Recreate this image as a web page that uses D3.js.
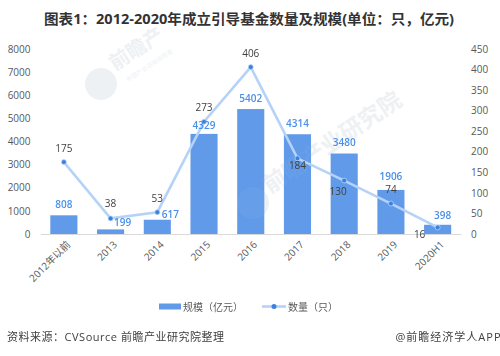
<!DOCTYPE html>
<html><head><meta charset="utf-8">
<script src="https://cdn.jsdelivr.net/npm/d3@7/dist/d3.min.js"></script>
<style>html,body{margin:0;padding:0;background:#fff}svg{display:block}
text{font-family:"Open Sans","Noto Sans CJK SC",sans-serif}</style></head><body>
<svg id="c" width="500" height="356"></svg>
<script>
const categories=["2012年以前","2013","2014","2015","2016","2017","2018","2019","2020H1"];
const scaleValues=[808,199,617,4329,5402,4314,3480,1906,398];
const countValues=[175,38,53,273,406,184,130,74,16];
const leftTicks=[0,1000,2000,3000,4000,5000,6000,7000,8000];
const rightTicks=[0,50,100,150,200,250,300,350,400,450];
const seriesNames=["规模（亿元）","数量（只）"];
const titleText="图表1：2012-2020年成立引导基金数量及规模(单位：只，亿元)";
const sourceText="资料来源：CVSource 前瞻产业研究院整理";
const creditText="@前瞻经济学人APP";
// label nudges from each mark (dx, dy)
const barNudge=[[0,-7],[12,-3],[13,-2],[0,-5],[0,-7],[0,-7.5],[0,-8],[0,-9.5],[5,-6]];
const lineNudge=[[0,-10.5],[0,-11],[0,-10.5],[0,-11],[0,-10.5],[0,10.5],[-6,14],[0,-10.5],[-18,10.5]];

const svg=d3.select("#c");
const x=d3.scaleBand().domain(categories).range([40.5,461]).paddingInner(0.42).paddingOuter(0.21);
const yL=d3.scaleLinear().domain([0,8000]).range([234,49]);
const yR=d3.scaleLinear().domain([0,450]).range([234,49]);
const cx=c=>x(c)+x.bandwidth()/2;

function watermark(g){
  g.append("circle").attr("cx",101).attr("cy",84).attr("r",16);
  g.append("text").attr("transform","translate(115,71) rotate(-33)").attr("font-size",20).attr("font-weight",700).text("前瞻产");
  g.append("text").attr("transform","translate(128,82) rotate(-33)").attr("font-size",6).text("中国产业咨询领导者");
  g.append("circle").attr("cx",253).attr("cy",203).attr("r",16);
  g.append("text").attr("transform","translate(270,194) rotate(-34)").attr("font-size",23).attr("font-weight",700).text("前瞻产业研究院");
}
watermark(svg.append("g").attr("fill","#eef1f4"));

svg.append("text").attr("x",44).attr("y",23.5).attr("font-size",14).attr("font-weight",700).attr("fill","#333").attr("textLength",410).attr("lengthAdjust","spacingAndGlyphs").text(titleText);

// axes
const axL=svg.append("g").attr("transform","translate(40.5,0)").call(d3.axisLeft(yL).tickValues(leftTicks).tickFormat(d3.format("d")).tickSize(0).tickPadding(10));
const axR=svg.append("g").attr("transform","translate(461,0)").call(d3.axisRight(yR).tickValues(rightTicks).tickFormat(d3.format("d")).tickSize(0).tickPadding(10));
[axL,axR].forEach(a=>{a.select(".domain").remove();a.selectAll("text").attr("font-size",10).attr("fill","#595959");});
const axB=svg.append("g").attr("transform","translate(0,234)").call(d3.axisBottom(x).tickSize(0));
axB.select(".domain").attr("stroke","#d9d9d9");
axB.selectAll("text").attr("font-size",10).attr("fill","#595959").attr("text-anchor","end").attr("dx",0).attr("dy",0)
  .attr("transform","translate(5,9) rotate(-45)");

// bars
svg.selectAll(".bar").data(scaleValues).join("rect").attr("class","bar")
 .attr("x",(d,i)=>x(categories[i])).attr("width",x.bandwidth())
 .attr("y",d=>yL(d)).attr("height",d=>234-yL(d)).attr("fill","#609ae8");
watermark(svg.append("g").attr("fill","#fff").attr("opacity",.05));

// line
const line=d3.line().x((d,i)=>cx(categories[i])).y(d=>yR(d));
svg.append("path").datum(countValues).attr("d",line).attr("fill","none").attr("stroke","#b5d2f7").attr("stroke-width",2.6);
svg.selectAll(".pt").data(countValues).join("circle").attr("class","pt")
 .attr("cx",(d,i)=>cx(categories[i])).attr("cy",d=>yR(d)).attr("r",2.5).attr("fill","#3b82e0").attr("stroke","#c6dcf9").attr("stroke-width",.7);

// labels
svg.selectAll(".bl").data(scaleValues).join("text").attr("class","bl").attr("text-anchor","middle")
 .attr("x",(d,i)=>cx(categories[i])+barNudge[i][0]).attr("y",(d,i)=>yL(d)+barNudge[i][1])
 .attr("font-size",10).attr("font-weight",600).attr("fill","#4a90e8").text(d=>d);
svg.selectAll(".ll").data(countValues).join("text").attr("class","ll").attr("text-anchor","middle")
 .attr("x",(d,i)=>cx(categories[i])+lineNudge[i][0]).attr("y",(d,i)=>yR(d)+lineNudge[i][1])
 .attr("font-size",10).attr("fill","#404040").text(d=>d);

// legend
svg.append("rect").attr("x",159).attr("y",303.5).attr("width",22).attr("height",6).attr("fill","#609ae8");
svg.append("text").attr("x",183).attr("y",310.5).attr("font-size",10).attr("fill","#595959").text(seriesNames[0]);
svg.append("line").attr("x1",262).attr("x2",286).attr("y1",306.5).attr("y2",306.5).attr("stroke","#b5d2f7").attr("stroke-width",2.6);
svg.append("circle").attr("cx",274).attr("cy",306.5).attr("r",2.5).attr("fill","#3b82e0");
svg.append("text").attr("x",288).attr("y",310.5).attr("font-size",10).attr("fill","#595959").text(seriesNames[1]);

// footer
svg.append("text").attr("x",7).attr("y",341).attr("font-size",11).attr("fill","#404040").attr("textLength",217).attr("lengthAdjust","spacing").text(sourceText);
svg.append("text").attr("x",395.5).attr("y",341).attr("font-size",11).attr("fill","#404040").attr("textLength",105).attr("lengthAdjust","spacing").text(creditText);
</script></body></html>
